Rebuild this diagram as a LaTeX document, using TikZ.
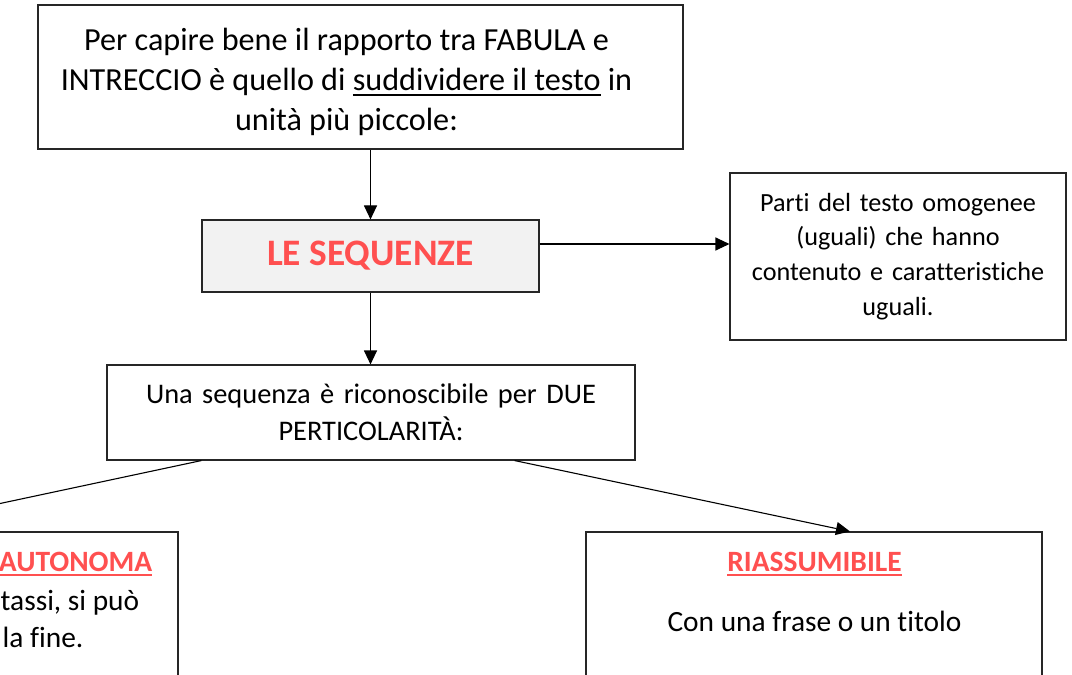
\documentclass[tikz,border=0pt]{standalone}
\usepackage{fontspec}
\setmainfont{Carlito}[Ligatures={NoCommon,NoRequired,NoContextual}]
\usetikzlibrary{arrows.meta}
\definecolor{redt}{RGB}{255,80,80}
\definecolor{boxgray}{RGB}{242,242,242}
\newcommand\ulx[1]{\setbox0\hbox{#1}\leavevmode\rlap{\rule[-0.16em]{\wd0}{0.065em}}\box0\relax}
\begin{document}
\begin{tikzpicture}[x=1bp,y=-1bp,
  box/.style={draw=black!85, line width=1.1bp, inner sep=0pt, align=center},
  conn/.style={draw=black, line width=1.1bp, -{Triangle[length=14bp,width=13bp]}},
  title/.style={inner sep=0pt, anchor=base, text=redt, font=\fontsize{29.6}{37}\selectfont\bfseries},
  body/.style={inner sep=0pt, anchor=base, font=\fontsize{29.5}{37}\selectfont}
]
\useasboundingbox (0,0) rectangle (1072,675);
\clip (0,0) rectangle (1072,675);

\node[box, minimum width=645bp, minimum height=144bp] (top) at (360.5,77) {};
\node[inner sep=0pt, align=center, font=\fontsize{32.3}{40}\selectfont] (toptext) at (346.5,82)
  {Per capire bene il rapporto tra FABULA e\\INTRECCIO è quello di \ulx{suddividere il testo} in\\unità più piccole:};

\node[box, fill=boxgray, minimum width=337bp, minimum height=72bp,
      font=\fontsize{37.5}{40}\selectfont\bfseries, text=redt] (seq) at (370.5,256) {LE SEQUENZE};

\node[box, minimum width=336bp, minimum height=167bp, text width=336bp,
      font=\fontsize{26.3}{35}\selectfont] (def) at (898,256.5)
  {Parti del testo omogenee\\(uguali) che hanno\\contenuto e caratteristiche\\uguali.};

\node[box, minimum width=528bp, minimum height=95bp, text width=528bp,
      font=\fontsize{28.5}{37}\selectfont] (una) at (371,412.5)
  {Una sequenza è riconoscibile per DUE\\PERTICOLARITÀ:};

\node[box, minimum width=456bp, minimum height=228bp] (auto) at (-50,646) {};
\node[box, minimum width=456bp, minimum height=228bp] (riass) at (814,646) {};

\node[title, anchor=base east] (autot) at (152.5,571) {\ulx{AUTONOMA}};
\node[body, anchor=base west] (autob1) at (0.5,610) {tassi, si può};
\node[body, anchor=base west] (autob2) at (2.5,647) {la fine.};

\node[title] (riasst) at (814.5,571) {\ulx{RIASSUMIBILE}};
\node[body] (riassb) at (814.5,631) {Con una frase o un titolo};

\draw[conn] (top.south -| seq.north) -- (seq.north);
\coordinate (sa) at ([yshift=12bp]seq.east);
\draw[conn] (sa) -- (sa -| def.west);
\draw[conn] (seq.south) -- (seq.south |- una.north);
\coordinate (ul) at ([xshift=95bp]una.south west);
\coordinate (ur) at ([xshift=-121bp]una.south east);
\draw[conn] (ul) -- ([xshift=-81bp]auto.north);
\draw[conn] (ur) -- ([xshift=36bp]riass.north);
\end{tikzpicture}
\end{document}
